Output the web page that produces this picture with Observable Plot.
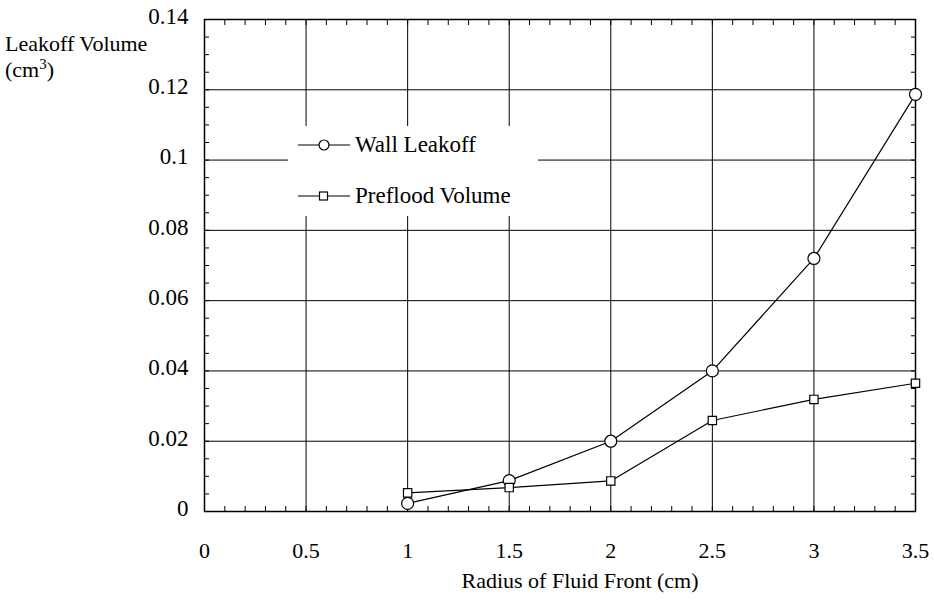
<!DOCTYPE html>
<html>
<head>
<meta charset="utf-8">
<script src="https://cdn.jsdelivr.net/npm/d3@7"></script>
<script src="https://cdn.jsdelivr.net/npm/@observablehq/plot@0.6"></script>
<style>
  html, body { margin: 0; padding: 0; background: #fff; }
  #chart { width: 934px; height: 605px; }
  #chart svg, #chart svg text { font-family: "Liberation Serif", "DejaVu Serif", serif; }
</style>
</head>
<body>
<div id="chart"></div>
<script>
// Radius of the fluid front (cm)
const radius = [1, 1.5, 2, 2.5, 3, 3.5];
// Leakoff volumes (cm^3)
const wallLeakoff = [0.0023, 0.0088, 0.020, 0.040, 0.072, 0.1187];
const prefloodVolume = [0.0053, 0.0068, 0.0087, 0.0259, 0.0319, 0.0365];

const seriesNames = ["Wall Leakoff", "Preflood Volume"];
const xTicks = [0, 0.5, 1, 1.5, 2, 2.5, 3, 3.5];
const yTicks = [0, 0.02, 0.04, 0.06, 0.08, 0.1, 0.12, 0.14];
const xMinor = d3.range(0, 36).map(i => i / 10);
const yMinor = d3.range(0, 29).map(i => i / 200);

const rows = radius.flatMap((r, i) => [
  {r, v: wallLeakoff[i], s: seriesNames[0]},
  {r, v: prefloodVolume[i], s: seriesNames[1]}
]);

const fmt = d3.format("~g");
const serif = "Liberation Serif, DejaVu Serif, serif";

// Annotation layer: y-axis title and the boxed legend
function annotations(index, scales, values, dims) {
  const ns = "http://www.w3.org/2000/svg";
  const g = document.createElementNS(ns, "g");
  g.setAttribute("text-anchor", "start");
  const el = (tag, attrs, parent = g) => {
    const e = document.createElementNS(ns, tag);
    for (const k in attrs) e.setAttribute(k, attrs[k]);
    parent.appendChild(e);
    return e;
  };
  // y title
  const t1 = el("text", {x: 5, y: 51, "font-size": 22});
  t1.textContent = "Leakoff Volume";
  const t2 = el("text", {x: 5, y: 77, "font-size": 22});
  t2.appendChild(document.createTextNode("(cm"));
  const sup = el("tspan", {dy: -8, "font-size": 15}, t2);
  sup.textContent = "3";
  const close = el("tspan", {dy: 8, "font-size": 22}, t2);
  close.textContent = ")";
  // legend box
  el("rect", {x: 288, y: 126, width: 250, height: 90, fill: "#fff"});
  const items = [
    {y: 145, sym: "circle"},
    {y: 196, sym: "square"}
  ];
  items.forEach((it, i) => {
    el("line", {x1: 298, x2: 350, y1: it.y, y2: it.y, stroke: "#000", "stroke-width": 1.2});
    if (it.sym === "circle") el("circle", {cx: 324, cy: it.y, r: 5, fill: "#fff", stroke: "#000", "stroke-width": 1.2});
    else el("rect", {x: 319.5, y: it.y - 4, width: 8, height: 8, fill: "#fff", stroke: "#000", "stroke-width": 1.2});
    const t = el("text", {x: 355, y: it.y + 7, "font-size": 23});
    t.textContent = seriesNames[i];
  });
  return g;
}

const chart = Plot.plot({
  width: 934,
  height: 605,
  marginLeft: 204,
  marginRight: 19,
  marginTop: 19,
  marginBottom: 94,
  style: {fontFamily: serif, fontSize: "22px", background: "#fff", color: "#000"},
  x: {domain: [0, 3.5], ticks: xTicks},
  y: {domain: [0, 0.14], ticks: yTicks},
  marks: [
    Plot.gridX(xTicks, {stroke: "#000", strokeOpacity: 1, strokeWidth: 1}),
    Plot.gridY(yTicks, {stroke: "#000", strokeOpacity: 1, strokeWidth: 1}),
    // minor ticks pointing inward on all four sides
    Plot.axisX(xMinor, {anchor: "bottom", tickSize: -5, fill: "none", label: null, stroke: "#000", strokeWidth: 1}),
    Plot.axisX(xMinor, {anchor: "top", tickSize: -5, fill: "none", label: null, stroke: "#000", strokeWidth: 1}),
    Plot.axisY(yMinor, {anchor: "left", tickSize: -5, fill: "none", label: null, stroke: "#000", strokeWidth: 1}),
    Plot.axisY(yMinor, {anchor: "right", tickSize: -5, fill: "none", label: null, stroke: "#000", strokeWidth: 1}),
    // tick labels
    Plot.axisX(xTicks, {anchor: "bottom", tickSize: 0, tickPadding: 31, tickFormat: fmt, fontSize: 22, label: null}),
    Plot.axisY(yTicks, {anchor: "left", tickSize: 0, tickPadding: 16, dy: -3, tickFormat: fmt, fontSize: 23, label: null}),
    Plot.text(["Radius of Fluid Front (cm)"], {frameAnchor: "bottom", dx: 20, dy: 76, fontSize: 22, text: d => d}),
    Plot.frame({stroke: "#000", strokeWidth: 1.5}),
    annotations,
    Plot.line(rows, {x: "r", y: "v", z: "s", stroke: "#000", strokeWidth: 1.2}),
    Plot.dot(rows.filter(d => d.s === seriesNames[0]), {x: "r", y: "v", r: 6, symbol: "circle", fill: "#fff", stroke: "#000", strokeWidth: 1.2}),
    Plot.dot(rows.filter(d => d.s === seriesNames[1]), {x: "r", y: "v", r: 4.7, symbol: "square", fill: "#fff", stroke: "#000", strokeWidth: 1.2})
  ]
});

chart.setAttribute("font-family", serif);
document.getElementById("chart").appendChild(chart);
</script>
</body>
</html>
